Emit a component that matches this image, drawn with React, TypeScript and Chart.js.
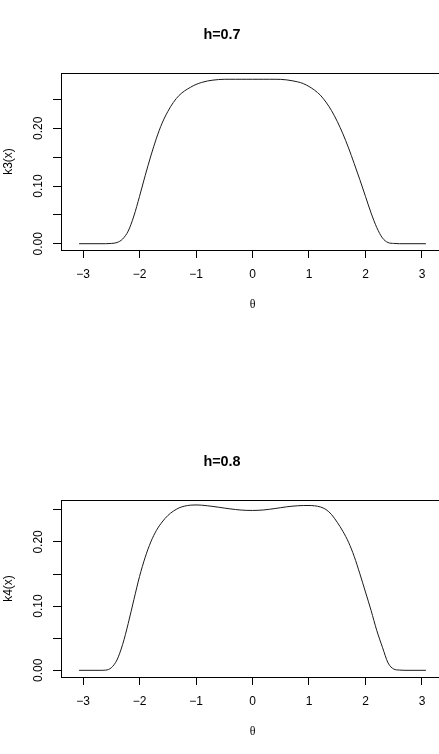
import React, { useEffect, useRef } from "react";
import { Chart, registerables } from "chart.js";

Chart.register(...registerables);

const SANS = "'Liberation Sans', Arial, Helvetica, sans-serif";
const SERIF = "'Liberation Serif', 'DejaVu Serif', serif";

// ---- tick marks / labels ----
const xTicks = [-3, -2, -1, 0, 1, 2, 3];
const xTickLabels = ["\u22123", "\u22122", "\u22121", "0", "1", "2", "3"];
const yTicks = [0, 0.05, 0.1, 0.15, 0.2, 0.25];
const yTickLabels = ["0.00", "", "0.10", "", "0.20", ""];

// ---- axis limits ----
const xLimits = [-3.39, 3.39];
const yLimitsTop = [-0.0109, 0.2959];
const yLimitsBottom = [-0.0104, 0.2653];

// ---- titles ----
const panelTitles = ["h=0.7", "h=0.8"];
const yAxisLabels = ["k3(x)", "k4(x)"];
const xAxisLabel = "\u03b8";

// ---- shared theta grid (read positions) ----
const theta = [
  -3.07, -2.7, -2.6, -2.5, -2.4, -2.3, -2.2, -2.1, -2.0, -1.9, -1.8, -1.7, -1.6, -1.5, -1.4, -1.3, -1.2, -1.1, -1.0,
  -0.9, -0.8, -0.7, -0.6, -0.5, -0.4, -0.3, -0.2, -0.1, 0, 0.1, 0.2, 0.3, 0.4, 0.5, 0.6, 0.7, 0.8, 0.9, 1.0, 1.1,
  1.2, 1.3, 1.4, 1.5, 1.6, 1.7, 1.8, 1.9, 2.0, 2.1, 2.2, 2.3, 2.4, 2.5, 2.6, 2.7, 3.07,
];

// ---- series: h=0.7 ----
const k3 = [
  0, 0, 0, 0.0005, 0.002, 0.008, 0.022, 0.048, 0.082, 0.118, 0.152, 0.183, 0.209, 0.229, 0.245, 0.257, 0.265, 0.271,
  0.276, 0.2795, 0.282, 0.2835, 0.2845, 0.285, 0.285, 0.285, 0.285, 0.285, 0.285, 0.285, 0.285, 0.285, 0.285, 0.2848,
  0.284, 0.2825, 0.2805, 0.2775, 0.2725, 0.266, 0.2575, 0.2455, 0.2305, 0.212, 0.1905, 0.166, 0.139, 0.111, 0.082,
  0.053, 0.028, 0.01, 0.002, 0.0005, 0, 0, 0,
];

// ---- series: h=0.8 ----
const k4 = [
  0, 0, 0.0003, 0.004, 0.016, 0.04, 0.073, 0.11, 0.146, 0.176, 0.2, 0.218, 0.231, 0.241, 0.248, 0.253, 0.2558, 0.2572,
  0.2576, 0.2572, 0.2563, 0.2552, 0.254, 0.2527, 0.2515, 0.2504, 0.2496, 0.2491, 0.249, 0.2492, 0.2498, 0.2508, 0.252,
  0.2533, 0.2546, 0.2556, 0.2563, 0.2567, 0.2567, 0.2562, 0.2545, 0.2505, 0.2425, 0.2305, 0.2165, 0.1995, 0.1775,
  0.1505, 0.122, 0.093, 0.062, 0.036, 0.0115, 0.002, 0.0004, 0, 0,
];

const boxPlugin = {
  id: "rbox",
  afterDraw(chart: any) {
    const { ctx, chartArea: a } = chart;
    ctx.save();
    ctx.strokeStyle = "#000";
    ctx.lineWidth = 1;
    ctx.strokeRect(
      Math.round(a.left) + 0.5,
      Math.round(a.top) + 0.5,
      Math.round(a.right - a.left),
      Math.round(a.bottom - a.top)
    );
    ctx.restore();
  },
};

function Panel(props: {
  top: number;
  title: string;
  yLabel: string;
  xs: number[];
  ys: number[];
  yLim: number[];
}) {
  const ref = useRef<HTMLCanvasElement>(null);
  useEffect(() => {
    Chart.defaults.font.family = SANS;
    Chart.defaults.color = "#000";
    const chart = new Chart(ref.current as HTMLCanvasElement, {
      type: "line",
      data: {
        datasets: [
          {
            data: props.xs.map((x, i) => ({ x, y: props.ys[i] })),
            borderColor: "#1a1a1a",
            borderWidth: 1,
            pointRadius: 0,
            fill: false,
            cubicInterpolationMode: "monotone",
          } as any,
        ],
      },
      options: {
        responsive: false,
        animation: false,
        devicePixelRatio: 1,
        layout: { padding: { left: 0, right: 61, top: 0, bottom: 0 } },
        plugins: {
          legend: { display: false },
          tooltip: { enabled: false },
          title: {
            display: true,
            text: props.title,
            color: "#000",
            font: { family: SANS, size: 14.4, weight: "bold" },
            padding: { top: 26, bottom: 29.7 },
          },
        },
        scales: {
          x: {
            type: "linear",
            min: xLimits[0],
            max: xLimits[1],
            afterBuildTicks: (s: any) => {
              s.ticks = xTicks.map((v) => ({ value: v }));
            },
            afterFit: (s: any) => {
              s.height = 80;
            },
            grid: { drawOnChartArea: false, drawTicks: true, tickLength: 8, color: "#000", lineWidth: 1 },
            border: { display: false },
            ticks: {
              autoSkip: false,
              maxRotation: 0,
              minRotation: 0,
              padding: 9,
              color: "#000",
              font: { family: SANS, size: 12 },
              callback: (_v: any, i: number) => xTickLabels[i],
            },
            title: {
              display: true,
              text: xAxisLabel,
              color: "#000",
              font: { family: SERIF, size: 12 },
              padding: { top: 0, bottom: 18 },
            },
          },
          y: {
            type: "linear",
            min: props.yLim[0],
            max: props.yLim[1],
            afterBuildTicks: (s: any) => {
              s.ticks = yTicks.map((v) => ({ value: v }));
            },
            afterFit: (s: any) => {
              s.width = 61;
            },
            grid: { drawOnChartArea: false, drawTicks: true, tickLength: 8, color: "#000", lineWidth: 1 },
            border: { display: false },
            ticks: {
              autoSkip: false,
              minRotation: 90,
              maxRotation: 90,
              crossAlign: "center",
              padding: 3,
              color: "#000",
              font: { family: SANS, size: 12 },
              callback: (_v: any, i: number) => yTickLabels[i],
            },
            title: {
              display: true,
              text: props.yLabel,
              color: "#000",
              font: { family: SANS, size: 12 },
              padding: { top: 1, bottom: 0 },
            },
          },
        },
      } as any,
      plugins: [boxPlugin],
    });
    return () => chart.destroy();
  }, []);
  return (
    <canvas
      ref={ref}
      width={505}
      height={330}
      style={{ position: "absolute", left: 0, top: props.top, display: "block" }}
    />
  );
}

export default function App() {
  return (
    <div
      style={{
        position: "absolute",
        left: 0,
        top: 0,
        width: 439,
        height: 754,
        overflow: "hidden",
        background: "#fff",
      }}
    >
      <Panel top={0} title={panelTitles[0]} yLabel={yAxisLabels[0]} xs={theta} ys={k3} yLim={yLimitsTop} />
      <Panel top={427} title={panelTitles[1]} yLabel={yAxisLabels[1]} xs={theta} ys={k4} yLim={yLimitsBottom} />
    </div>
  );
}
